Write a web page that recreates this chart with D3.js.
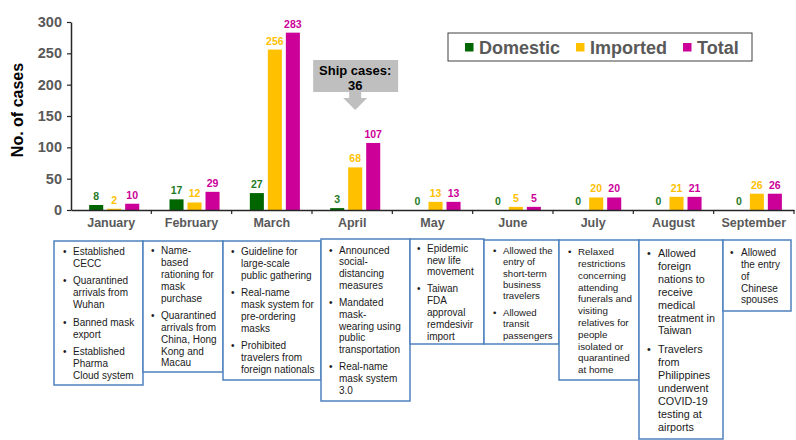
<!DOCTYPE html>
<html>
<head>
<meta charset="utf-8">
<script src="https://cdn.jsdelivr.net/npm/d3@7"></script>
<style>
body { margin: 0; background: #fff; }
svg text { font-family: "Liberation Sans", Arial, sans-serif; }
</style>
</head>
<body>
<svg id="chart"></svg>
<script>
// data
const months = ["January", "February", "March", "April", "May", "June", "July", "August", "September"];
const domestic = [8, 17, 27, 3, 0, 0, 0, 0, 0];
const imported = [2, 12, 256, 68, 13, 5, 20, 21, 26];
const total = [10, 29, 283, 107, 13, 5, 20, 21, 26];
const seriesNames = ["Domestic", "Imported", "Total"];
const yTicks = [0, 50, 100, 150, 200, 250, 300];
const shipCases = 36;

const events = [
    [["Established", "CECC"], ["Quarantined", "arrivals from", "Wuhan"], ["Banned mask", "export"], ["Established", "Pharma", "Cloud system"]],
    [["Name-", "based", "rationing for", "mask", "purchase"], ["Quarantined", "arrivals from", "China, Hong", "Kong and", "Macau"]],
    [["Guideline for", "large-scale", "public gathering"], ["Real-name", "mask system for", "pre-ordering", "masks"], ["Prohibited", "travelers from", "foreign nationals"]],
    [["Announced", "social-", "distancing", "measures"], ["Mandated", "mask-", "wearing using", "public", "transportation"], ["Real-name", "mask system", "3.0"]],
    [["Epidemic", "new life", "movement"], ["Taiwan", "FDA", "approval", "remdesivir", "import"]],
    [["Allowed the", "entry of", "short-term", "business", "travelers"], ["Allowed", "transit", "passengers"]],
    [["Relaxed", "restrictions", "concerning", "attending", "funerals and", "visiting", "relatives for", "people", "isolated or", "quarantined", "at home"]],
    [["Allowed", "foreign", "nations to", "receive", "medical", "treatment in", "Taiwan"], ["Travelers", "from", "Philippines", "underwent", "COVID-19", "testing at", "airports"]],
    [["Allowed", "the entry", "of", "Chinese", "spouses"]]
];

// layout of the event boxes under the chart
const boxLayout = [
    {x: 54,  w: 89, y: 241, h: 144, bx: 9, tx: 19, y0: 251.7, lh: 12,   gap: 5.2, fs: 10},
    {x: 143, w: 80, y: 241, h: 131, bx: 8, tx: 18, y0: 250.7, lh: 11.9, gap: 5.1, fs: 10},
    {x: 223, w: 98, y: 241, h: 139, bx: 8, tx: 18, y0: 251.7, lh: 12,   gap: 5,   fs: 10},
    {x: 321, w: 89, y: 239, h: 162, bx: 8, tx: 18, y0: 250,   lh: 11.75, gap: 5.5, fs: 10},
    {x: 410, w: 74, y: 239, h: 105, bx: 7, tx: 17, y0: 248.3, lh: 11.8, gap: 5.2, fs: 10},
    {x: 484, w: 75, y: 240, h: 104, bx: 9, tx: 19, y0: 250.7, lh: 11.3, gap: 5.4, fs: 9.6},
    {x: 559, w: 80, y: 240, h: 140, bx: 9, tx: 19, y0: 251.7, lh: 11.8, gap: 5,   fs: 9.8},
    {x: 639, w: 84, y: 240, h: 199, bx: 8, tx: 19, y0: 253.3, lh: 12.9, gap: 5.8, fs: 10.8},
    {x: 723, w: 68, y: 240, h: 71,  bx: 7, tx: 18, y0: 252.7, lh: 11.8, gap: 5,   fs: 10}
];

const width = 796, height = 440;
const font = "'Liberation Sans', Arial, sans-serif";
const barColors = ["#006600", "#ffc000", "#cc0099"];
const labelColors = ["#1f7a1f", "#ffc000", "#cc0099"];

const svg = d3.select("#chart").attr("width", width).attr("height", height)
    .attr("font-family", font);

const x0 = d3.scaleBand().domain(months).range([71, 794]);
const x1 = d3.scaleBand().domain(seriesNames).range([0, x0.bandwidth()])
    .paddingInner(0.22).paddingOuter(0.84).align(0.6);
const y = d3.scaleLinear().domain([0, 300]).range([210, 22]);

const rows = months.map((m, i) => ({month: m, values: [domestic[i], imported[i], total[i]]}));

// bars
const groups = svg.append("g").selectAll("g").data(rows).enter().append("g")
    .attr("transform", d => `translate(${x0(d.month)},0)`);

groups.selectAll("rect")
    .data(d => d.values.map((v, k) => ({k: k, v: v})))
    .enter().append("rect")
    .attr("x", d => x1(seriesNames[d.k]))
    .attr("y", d => y(d.v))
    .attr("width", x1.bandwidth())
    .attr("height", d => y(0) - y(d.v))
    .attr("fill", d => barColors[d.k]);

groups.selectAll("text")
    .data(d => d.values.map((v, k) => ({k: k, v: v})))
    .enter().append("text")
    .attr("x", d => x1(seriesNames[d.k]) + x1.bandwidth() / 2)
    .attr("y", d => y(d.v) - 5)
    .attr("text-anchor", "middle")
    .style("font-size", "10.5px")
    .style("font-weight", "bold")
    .attr("fill", d => labelColors[d.k])
    .text(d => d.v);

// y axis
const yAxis = svg.append("g")
    .attr("transform", "translate(71,0)")
    .call(d3.axisLeft(y).tickValues(yTicks).tickSize(4).tickSizeOuter(0).tickPadding(5));
yAxis.attr("font-family", font);
yAxis.select(".domain").attr("stroke", "#262626").attr("stroke-width", 1.5);
yAxis.selectAll(".tick line").attr("stroke", "#262626").attr("stroke-width", 1.2);
yAxis.selectAll(".tick text")
    .style("font-size", "14.5px").style("font-weight", "bold")
    .attr("fill", "#595959");

// x axis
const xAxis = svg.append("g")
    .attr("transform", "translate(0,210)")
    .call(d3.axisBottom(x0).tickSize(0).tickPadding(8));
xAxis.attr("font-family", font);
xAxis.select(".domain").attr("stroke", "#262626").attr("stroke-width", 1.5);
xAxis.selectAll(".tick text")
    .style("font-size", "12.5px").style("font-weight", "bold")
    .attr("fill", "#595959");
xAxis.selectAll("line.sep")
    .data(months.slice(1).map(m => x0(m)).concat([x0.range()[1]]))
    .enter().append("line")
    .attr("class", "sep")
    .attr("x1", d => d).attr("x2", d => d)
    .attr("y1", 0).attr("y2", 4)
    .attr("stroke", "#262626").attr("stroke-width", 1.2);

// y label
svg.append("text")
    .attr("transform", "translate(23,110) rotate(-90)")
    .attr("text-anchor", "middle")
    .style("font-size", "16px")
    .style("font-weight", "bold")
    .attr("fill", "#000")
    .text("No. of cases");

// legend
const legend = svg.append("g");
legend.append("rect")
    .attr("x", 448).attr("y", 33).attr("width", 304).attr("height", 28)
    .attr("fill", "#fff").attr("stroke", "#404040").attr("stroke-width", 1);
const legendX = [465, 576, 683];
seriesNames.forEach((name, k) => {
    legend.append("rect")
        .attr("x", legendX[k]).attr("y", 43).attr("width", 8.5).attr("height", 8.5)
        .attr("fill", barColors[k]);
    legend.append("text")
        .attr("x", legendX[k] + 14).attr("y", 53.5)
        .style("font-size", "18px").style("font-weight", "bold")
        .attr("fill", "#595959")
        .text(name);
});

// ship cases callout
const cx = x0("April") + x0.bandwidth() / 2 + 3;
const callout = svg.append("g");
callout.append("path")
    .attr("d", `M${cx - 42},60 H${cx + 43} V92 H${cx + 6} V98 H${cx + 12} L${cx},110 L${cx - 12},98 H${cx - 6} V92 H${cx - 42} Z`)
    .attr("fill", "#bfbfbf");
callout.append("text")
    .attr("x", cx).attr("y", 74.5)
    .attr("text-anchor", "middle")
    .style("font-size", "13px").style("font-weight", "bold")
    .text("Ship cases:");
callout.append("text")
    .attr("x", cx).attr("y", 90)
    .attr("text-anchor", "middle")
    .style("font-size", "13px").style("font-weight", "bold")
    .text(shipCases);

// event boxes
events.forEach((bullets, i) => {
    const b = boxLayout[i];
    const g = svg.append("g");
    g.append("rect")
        .attr("x", b.x).attr("y", b.y).attr("width", b.w).attr("height", b.h)
        .attr("fill", "#fff").attr("stroke", "#4f81bd").attr("stroke-width", 1.5);
    let cy = b.y0;
    bullets.forEach(lines => {
        g.append("text")
            .attr("x", b.x + b.bx).attr("y", cy + b.fs * 0.35)
            .style("font-size", b.fs + "px")
            .attr("fill", "#1a1a1a")
            .text("\u2022");
        lines.forEach((line, j) => {
            g.append("text")
                .attr("x", b.x + b.tx).attr("y", cy + j * b.lh + b.fs * 0.35)
                .style("font-size", b.fs + "px")
                .attr("fill", "#1a1a1a")
                .text(line);
        });
        cy += lines.length * b.lh + b.gap;
    });
});
</script>
</body>
</html>
